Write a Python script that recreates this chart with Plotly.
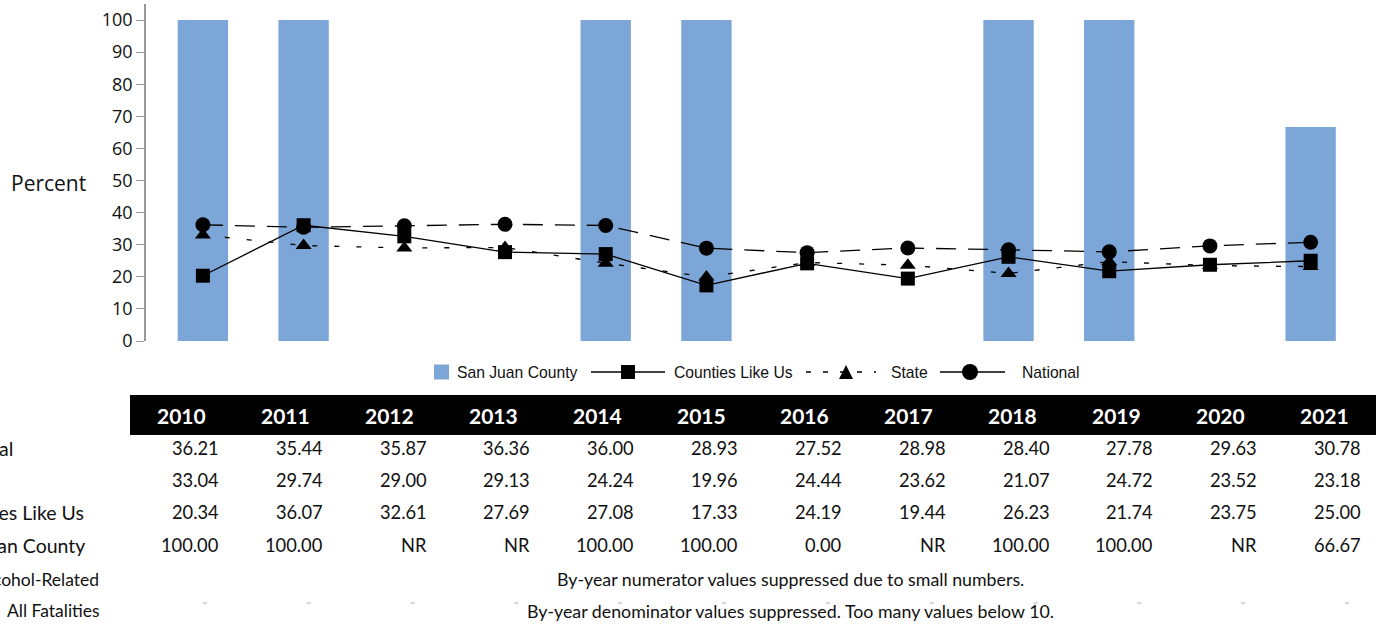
import plotly.graph_objects as go

years = ["2010", "2011", "2012", "2013", "2014", "2015", "2016", "2017", "2018", "2019", "2020", "2021"]
san_juan = [100.00, 100.00, None, None, 100.00, 100.00, 0.00, None, 100.00, 100.00, None, 66.67]
counties_like_us = [20.34, 36.07, 32.61, 27.69, 27.08, 17.33, 24.19, 19.44, 26.23, 21.74, 23.75, 25.00]
state = [33.04, 29.74, 29.00, 29.13, 24.24, 19.96, 24.44, 23.62, 21.07, 24.72, 23.52, 23.18]
national = [36.21, 35.44, 35.87, 36.36, 36.00, 28.93, 27.52, 28.98, 28.40, 27.78, 29.63, 30.78]

row_labels = ["National", "State", "Counties Like Us", "San Juan County", "Alcohol-Related", "All Fatalities"]
note_numerator = "By-year numerator values suppressed due to small numbers."
note_denominator = "By-year denominator values suppressed. Too many values below 10."

BAR_COLOR = "#7DA6D8"
W, H = 1379, 626
L, R, T, B = 146, 18, 4, 285
pw = W - L - R
ph = H - T - B


def px(x):
    return (x - L) / pw


def py(y):
    return (H - B - y) / ph


def fmt(v):
    return "NR" if v is None else f"{v:.2f}"


fig = go.Figure()
fig.add_trace(go.Bar(x=years, y=san_juan, name="San Juan County", marker_color=BAR_COLOR,
                     marker_line_width=0, width=0.5, showlegend=False))
fig.add_trace(go.Scatter(x=years, y=counties_like_us, name="Counties Like Us", mode="lines+markers",
                         line=dict(color="black", width=1.3),
                         marker=dict(symbol="square", size=14, color="black"), showlegend=False))
fig.add_trace(go.Scatter(x=years, y=state, name="State", mode="lines+markers",
                         line=dict(color="black", width=1.3, dash="5px,17px"),
                         marker=dict(symbol="triangle-up", size=14, color="black"), showlegend=False))
fig.add_trace(go.Scatter(x=years, y=national, name="National", mode="lines+markers",
                         line=dict(color="black", width=1.3, dash="20px,12px"),
                         marker=dict(symbol="circle", size=15, color="black"), showlegend=False))

annotations = []
shapes = []

# y-axis title
annotations.append(dict(text="Percent", x=px(48), y=py(183), xref="paper", yref="paper",
                        showarrow=False, xanchor="center", yanchor="middle",
                        font=dict(family="Open Sans", size=21, color="#111")))

# custom legend
LY = 372
leg_font = dict(family="Liberation Sans", size=15.7, color="#111")
shapes.append(dict(type="rect", xref="paper", yref="paper", x0=px(434), x1=px(449),
                   y0=py(LY + 7.5), y1=py(LY - 7.5), fillcolor=BAR_COLOR, line=dict(width=0)))
annotations.append(dict(text="San Juan County", x=px(455), y=py(LY), xref="paper", yref="paper",
                        showarrow=False, xanchor="left", yanchor="middle", font=leg_font))
# Counties Like Us
shapes.append(dict(type="line", xref="paper", yref="paper", x0=px(591), x1=px(665),
                   y0=py(LY), y1=py(LY), line=dict(color="black", width=1.3)))
shapes.append(dict(type="rect", xref="paper", yref="paper", x0=px(621), x1=px(635),
                   y0=py(LY + 7), y1=py(LY - 7), fillcolor="black", line=dict(width=0)))
annotations.append(dict(text="Counties Like Us", x=px(672), y=py(LY), xref="paper", yref="paper",
                        showarrow=False, xanchor="left", yanchor="middle", font=leg_font))
# State
shapes.append(dict(type="line", xref="paper", yref="paper", x0=px(806), x1=px(876),
                   y0=py(LY), y1=py(LY), line=dict(color="black", width=1.3, dash="5px,12px")))
tx0, tx1, txm = px(839), px(853), px(846)
ty0, ty1 = py(LY + 7), py(LY - 7)
shapes.append(dict(type="path", xref="paper", yref="paper",
                   path=f"M {tx0} {ty0} L {tx1} {ty0} L {txm} {ty1} Z",
                   fillcolor="black", line=dict(width=0)))
annotations.append(dict(text="State", x=px(889), y=py(LY), xref="paper", yref="paper",
                        showarrow=False, xanchor="left", yanchor="middle", font=leg_font))
# National
shapes.append(dict(type="line", xref="paper", yref="paper", x0=px(940), x1=px(1005),
                   y0=py(LY), y1=py(LY), line=dict(color="black", width=1.3)))
shapes.append(dict(type="circle", xref="paper", yref="paper", x0=px(962), x1=px(978),
                   y0=py(LY + 8), y1=py(LY - 8), fillcolor="black", line=dict(width=0)))
annotations.append(dict(text="National", x=px(1020), y=py(LY), xref="paper", yref="paper",
                        showarrow=False, xanchor="left", yanchor="middle", font=leg_font))

# table
tbl_l, tbl_r = 130, 1376
ncol = len(years)
cw = (tbl_r - tbl_l) / ncol
shapes.append(dict(type="rect", xref="paper", yref="paper", x0=px(tbl_l), x1=px(tbl_r),
                   y0=py(435), y1=py(395), fillcolor="black", line=dict(width=0), layer="above"))
for i, yr in enumerate(years):
    cx = tbl_l + cw * (i + 0.5)
    annotations.append(dict(text=f"<b>{yr}</b>", x=px(cx), y=py(415), xref="paper", yref="paper",
                            showarrow=False, xanchor="center", yanchor="middle",
                            font=dict(family="Lato", size=21, color="white")))

row_y = [448, 480, 512, 545]
row_vals = [national, state, counties_like_us, san_juan]
for ry, vals in zip(row_y, row_vals):
    for i, v in enumerate(vals):
        rx = tbl_l + cw * (i + 1) - 13
        annotations.append(dict(text=fmt(v), x=px(rx), y=py(ry), xref="paper", yref="paper",
                                showarrow=False, xanchor="right", yanchor="middle",
                                font=dict(family="Lato", size=18.3, color="#111")))

label_pos = [(15, 448), (-20, 480), (86, 512), (87, 545), (101, 579), (102, 610)]
for lab, (lx, ly) in zip(row_labels, label_pos):
    if lx < 0:
        continue
    annotations.append(dict(text=lab, x=px(lx), y=py(ly), xref="paper", yref="paper",
                            showarrow=False, xanchor="right", yanchor="middle",
                            font=dict(family="Lato", size=17.5 if ly > 560 else 19.5, color="#111")))

for note, ny in [(note_numerator, 579), (note_denominator, 611)]:
    annotations.append(dict(text=note, x=px(790), y=py(ny), xref="paper", yref="paper",
                            showarrow=False, xanchor="center", yanchor="middle",
                            font=dict(family="Lato", size=17.8, color="#111")))

# small gray marks in last row
for i in range(ncol):
    mx = tbl_l + cw * (i + 1) - 29
    shapes.append(dict(type="line", xref="paper", yref="paper", x0=px(mx - 2), x1=px(mx + 2),
                       y0=py(603), y1=py(603), line=dict(color="#aaa", width=1)))

fig.update_layout(
    width=W, height=H,
    margin=dict(l=L, r=R, t=T, b=B),
    plot_bgcolor="white", paper_bgcolor="white",
    showlegend=False,
    xaxis=dict(range=[-0.565, 11.5], showticklabels=False, showline=False, showgrid=False,
               zeroline=False, ticks=""),
    yaxis=dict(range=[0, 105], tickvals=list(range(0, 101, 10)), showgrid=False, zeroline=False,
               showline=True, linecolor="#999", linewidth=1.5, ticks="outside", ticklen=8,
               tickcolor="#999", tickfont=dict(family="Open Sans", size=18, color="#111")),
    annotations=annotations, shapes=shapes, bargap=0.5,
)

fig.write_html("out.html", config={"displayModeBar": False},
               post_script="document.body.style.margin='0';document.body.style.overflow='hidden';")
